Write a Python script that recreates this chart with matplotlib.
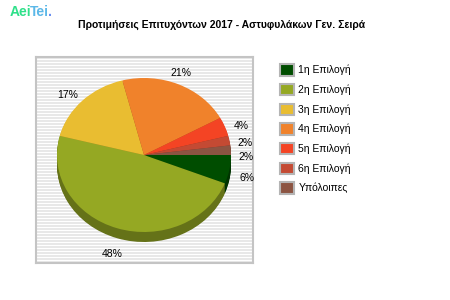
import matplotlib
matplotlib.use("Agg")
import matplotlib.pyplot as plt
import matplotlib.colors as mcolors
from matplotlib.patches import Patch
import numpy as np

plt.rcParams['font.family'] = ['Liberation Sans', 'DejaVu Sans']

title = "Προτιμήσεις Επιτυχόντων 2017 - Αστυφυλάκων Γεν. Σειρά"
labels = ["1η Επιλογή", "2η Επιλογή", "3η Επιλογή", "4η Επιλογή",
          "5η Επιλογή", "6η Επιλογή", "Υπόλοιπες"]
shares = [6, 48, 17, 21, 4, 2, 2]
colors = ["#004d00", "#95a823", "#e9bd31", "#f0822b", "#f44424", "#c44a33", "#8c5442"]

W, H = 450, 300
fig = plt.figure(figsize=(4.5, 3), dpi=100)

# striped plot area
bg = fig.add_axes([36 / W, 1 - 263 / H, 217 / W, 206 / H])
bg.set_xlim(0, 1)
bg.set_ylim(0, 206)
bg.hlines(np.arange(1, 206, 3), 0, 1, color="#e4e4e4", lw=1.2)
bg.set_xticks([])
bg.set_yticks([])
for s in bg.spines.values():
    s.set_color("#c4c4c4")
    s.set_linewidth(1.5)

# pie, drawn as an ellipse with a little depth
cx, cy, rx, ry, depth = 144, 155, 87, 77, 10
ax = fig.add_axes([(cx - rx) / W, 1 - (cy + ry) / H, 2 * rx / W, 2 * ry / H])
dark = [tuple(np.array(mcolors.to_rgb(c)) * 0.68) for c in colors]
for k in range(depth, 0, -1):
    ax.pie(shares, colors=dark, startangle=0, counterclock=False,
           center=(0, -k / ry), wedgeprops=dict(clip_on=False, lw=0))
wedges, texts, autotexts = ax.pie(
    shares, colors=colors, startangle=0, counterclock=False,
    autopct="%d%%", pctdistance=1.2,
    wedgeprops=dict(clip_on=False, lw=0),
    textprops=dict(fontsize=7.5, color="black"))
nudge = [(0, -0.08), (0, -0.14), (-0.03, -0.07), (-0.05, -0.04),
         (0, -0.06), (-0.02, -0.07), (-0.02, -0.1)]
for t, (dx, dy) in zip(autotexts, nudge):
    x, y = t.get_position()
    t.set_position((x + dx, y + dy))
    t.set_clip_on(False)
ax.set_aspect("auto")
ax.set_xlim(-1, 1)
ax.set_ylim(-1, 1)
ax.axis("off")

# legend
handles = [Patch(facecolor=c, edgecolor="#b4b4b4", lw=1.5) for c in colors]
fig.legend(handles, labels, loc="upper left", bbox_to_anchor=(276 / W, 1 - 60 / H),
           frameon=False, fontsize=7.5, handlelength=1.3, handleheight=1.3,
           labelspacing=0.8, handletextpad=0.45, borderaxespad=0)

fig.text(222 / W, 1 - 25 / H, title, ha="center", va="center",
         fontsize=7.5, fontweight="bold")

# logo
fig.text(10 / W, 1 - 12 / H, "Aei", ha="left", va="center", fontsize=10,
         fontweight="bold", color="#2fe08a")
fig.text(30 / W, 1 - 12 / H, "Tei", ha="left", va="center", fontsize=10,
         fontweight="bold", color="#5cb8e8")
fig.text(48 / W, 1 - 12 / H, ".", ha="left", va="center", fontsize=10,
         fontweight="bold", color="#6a8ff0")

fig.savefig("out.png", dpi=100)
